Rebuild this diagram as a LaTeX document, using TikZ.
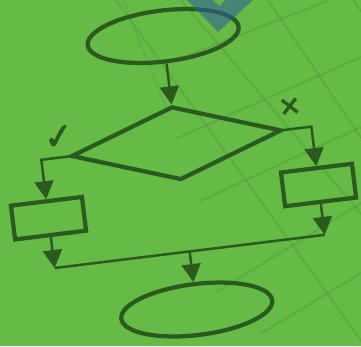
\documentclass[tikz,border=0pt]{standalone}
\usepackage{fontspec}
\usepackage{xcolor}
\usepackage{tikz}
\usetikzlibrary{positioning,arrows.meta,shapes.geometric,calc}

\newfontfamily\symfont[FakeBold=2.5]{DejaVu Sans}

\definecolor{bggreen}{HTML}{66BB46}
\definecolor{inkgreen}{HTML}{2A5A1E}
\definecolor{gridgreen}{HTML}{4E9A34}
\definecolor{chevblue}{HTML}{2F5C9C}

\begin{document}
\begin{tikzpicture}[
    >={Triangle[length=0.36cm, width=0.38cm]},
    shape line/.style={draw=inkgreen, line width=0.085cm},
    terminal/.style={shape line, ellipse, inner sep=0pt, minimum width=3.04cm, minimum height=1.02cm},
    decision/.style={shape line, diamond, inner sep=0pt, minimum width=4.24cm, minimum height=1.48cm},
    process/.style={shape line, rectangle, inner sep=0pt, minimum width=1.43cm, minimum height=0.68cm},
    answer/.style={text=inkgreen, font=\symfont\fontsize{20}{20}\selectfont, inner sep=0pt},
    link/.style={draw=inkgreen, line width=0.05cm},
    gridline/.style={draw=gridgreen, line width=0.04cm, opacity=0.42}
]

% background
\fill[bggreen] (0,0) rectangle (7.22,-6.92);
\useasboundingbox (0,0) rectangle (7.22,-6.92);

% grid in the background (pixel units)
\begin{scope}[x=0.02cm, y=-0.02cm]
\clip (0,0) rectangle (361,346);
\draw[gridline, opacity=0.25] (123,0) -- (167,110);
\draw[gridline] (116,0) -- (365,346);
\draw[gridline] (181,0) -- (361,214);
\draw[gridline] (268,0) -- (361,138);
\draw[gridline] (353,0) -- (365,17);
\draw[gridline] (170,62) -- (330,0);
\draw[gridline] (175,139) -- (361,57);
\draw[gridline] (200,201) -- (361,127);
\draw[gridline] (215,293) -- (361,203);
\draw[gridline] (260,334) -- (361,273);
\end{scope}

% flowchart
\begin{scope}[shift={(3.6,-3.46)}, rotate=7, x=0.02cm, y=0.02cm, every node/.append style={transform shape}]

% start and end
\node[terminal] (start) at (0,138) {};
\node[terminal] (end) at (0,-137.5) {};

% decision
\node[decision] (test) at (0,30) {};

% the two branches
\node[process] (yesbox) at (-136,-28.8) {};
\node[process] (nobox) at (136,-28.8) {};

% answers
\node[answer] (yesmark) at (-116,50) {✓};
\node[answer, font=\symfont\fontsize{15}{15}\selectfont] (nomark) at (117,52) {✕};

% join line
\coordinate (joinL) at (-136,-79);
\coordinate (joinR) at (136,-79);
\coordinate (joinM) at (0,-79);

% arrows
\draw[link, ->] (start.south) -- (test.north);
\draw[link, ->] (test.west) -| (yesbox.north);
\draw[link, ->] (test.east) -| (nobox.north);
\draw[link, ->] (yesbox.south) -- (joinL);
\draw[link, ->] (nobox.south) -- (joinR);
\draw[link] (joinL) -- (joinR);
\draw[link, ->] (joinM) -- (end.north);

\end{scope}

% chevron on top
\begin{scope}[x=0.02cm, y=-0.02cm]
\fill[chevblue, opacity=0.55] (187,0) -- (218,32) -- (253,0) -- (225,0) -- (219,6) -- (213,0) -- cycle;
\end{scope}

\end{tikzpicture}
\end{document}
